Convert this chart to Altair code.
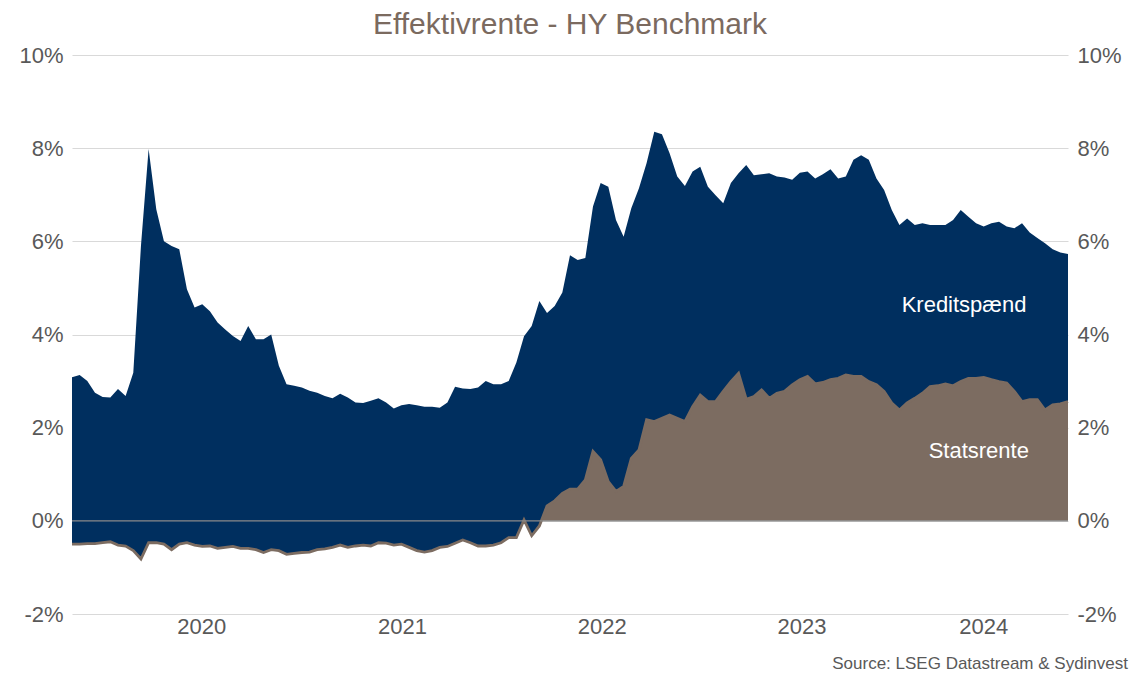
import altair as alt
import pandas as pd

# ---- data (biweekly, % values) ----
start_date = "2019-11-05"
n_points = 131
dates = [d.strftime("%Y-%m-%d") for d in pd.date_range(start_date, periods=n_points, freq="14D")]

total_yield = [
    3.08, 3.13, 3.0, 2.75, 2.66, 2.65, 2.83, 2.68, 3.18, 5.9, 7.98, 6.69, 6.0, 5.9, 5.83, 4.97,
    4.58, 4.65, 4.5, 4.26, 4.11, 3.97, 3.86, 4.18, 3.9, 3.9, 4.0, 3.33, 2.93, 2.9, 2.86, 2.79, 2.75,
    2.68,
    2.63, 2.73, 2.65, 2.54, 2.53, 2.58, 2.63, 2.54, 2.41, 2.48, 2.51, 2.48, 2.45, 2.45, 2.43, 2.54,
    2.88, 2.84, 2.83, 2.86, 3.0, 2.93, 2.93, 3.0, 3.4, 3.96, 4.18, 4.72, 4.46, 4.61, 4.9,
    5.7, 5.6,
    5.64, 6.75, 7.25, 7.17, 6.46, 6.1, 6.71, 7.14, 7.68, 8.35, 8.3, 7.89, 7.39, 7.19, 7.5, 7.6,
    7.17, 6.99, 6.82, 7.25, 7.46, 7.64, 7.42, 7.44, 7.46, 7.39, 7.37, 7.32, 7.47, 7.5, 7.35,
    7.44,
    7.55, 7.35, 7.39, 7.75, 7.85, 7.75, 7.35, 7.1, 6.67, 6.35, 6.49, 6.35, 6.39, 6.35, 6.35, 6.35,
    6.46, 6.67, 6.53, 6.39, 6.32, 6.39, 6.42, 6.32, 6.28, 6.39, 6.19, 6.07, 5.96, 5.83, 5.76, 5.73,
]

gov_yield = [
    -0.5, -0.5, -0.49, -0.49, -0.47, -0.45, -0.52, -0.54, -0.64, -0.82, -0.47, -0.47, -0.5, -0.62,
    -0.5, -0.47, -0.52, -0.55, -0.54, -0.59, -0.57, -0.55, -0.59, -0.59, -0.62, -0.68, -0.62, -0.64,
    -0.72, -0.7, -0.68, -0.67, -0.62,
    -0.6,
    -0.57, -0.52, -0.57, -0.54, -0.52, -0.54, -0.47, -0.48, -0.52, -0.5, -0.57, -0.64, -0.67, -0.64,
    -0.57, -0.55, -0.48, -0.41, -0.47, -0.54, -0.54, -0.52, -0.47, -0.36, -0.36, 0.02, -0.32, -0.11,
    0.32, 0.43, 0.59,
    0.68, 0.68,
    0.88, 1.49, 1.31, 0.84, 0.63, 0.74, 1.34, 1.52, 2.17, 2.13, 2.2, 2.27, 2.2, 2.13, 2.45, 2.7,
    2.56, 2.56, 2.78, 2.99, 3.17, 2.61, 2.67, 2.81, 2.63, 2.74, 2.78, 2.92, 3.03, 3.1, 2.94,
    2.97,
    3.03, 3.06, 3.13, 3.1, 3.1, 2.99, 2.92, 2.78, 2.53, 2.38, 2.53, 2.63, 2.74, 2.88, 2.9, 2.94,
    2.9, 2.99, 3.06, 3.06, 3.08, 3.03, 2.99, 2.96, 2.78, 2.56, 2.6, 2.6, 2.38, 2.49, 2.51, 2.56,
]

year_labels = ["2020", "2021", "2022", "2023", "2024"]
year_label_dates = ["2020-06-29", "2021-07-01", "2022-07-01", "2023-07-01", "2024-05-28"]
year_tick_years = [2020, 2021, 2022, 2023, 2024]

series_labels = ["Kreditspænd", "Statsrente"]
series_label_dates = ["2024-04-22", "2024-05-19"]
series_label_values = [4.64, 1.5]

y_ticks = [-2, 0, 2, 4, 6, 8, 10]

# ---- style ----
NAVY = "#002f5f"
BROWN = "#7c6c61"
TEXT = "#595959"
GRID = "#d9d9d9"
FONT = "Liberation Sans"

df = pd.DataFrame({"date": dates, "total": total_yield, "gov": gov_yield})
yl = pd.DataFrame({"date": year_label_dates, "label": year_labels, "v": [-2] * len(year_labels)})
sl = pd.DataFrame({"date": series_label_dates, "value": series_label_values, "label": series_labels})

xscale = alt.Scale(
    type="utc",
    domain=[alt.DateTime(year=2019, month=11, date=5, utc=True),
            alt.DateTime(year=2024, month=10, date=29, utc=True)],
)
yscale = alt.Scale(domain=[-2, 10], nice=False, zero=False)

x_axis = alt.Axis(
    values=[alt.DateTime(year=y, month=1, date=1, utc=True) for y in year_tick_years],
    labels=False, grid=False, ticks=True, tickSize=5, tickColor=GRID,
    domain=True, domainColor=GRID, title=None,
)
left_axis = alt.Axis(
    values=y_ticks, labelExpr="datum.value + '%'", orient="left", grid=True, gridColor=GRID,
    ticks=False, domain=False, labelFontSize=22, labelColor=TEXT, labelPadding=9, title=None,
)
right_axis = alt.Axis(
    values=y_ticks, labelExpr="datum.value + '%'", orient="right", grid=False,
    ticks=False, domain=False, labelFontSize=22, labelColor=TEXT, labelPadding=9, title=None,
)

base = alt.Chart(df)

gov_area = base.mark_area(color=BROWN, opacity=1).encode(
    x=alt.X("date:T", scale=xscale, axis=x_axis),
    y=alt.Y("gov:Q", scale=yscale, axis=left_axis),
    y2=alt.datum(0),
)
spread_area = base.mark_area(color=NAVY, opacity=1).encode(
    x=alt.X("date:T", scale=xscale, axis=None),
    y=alt.Y("gov:Q", scale=yscale, axis=None),
    y2="total:Q",
)
gov_line = base.mark_line(color=BROWN, strokeWidth=2.8).encode(
    x=alt.X("date:T", scale=xscale, axis=None),
    y=alt.Y("gov:Q", scale=yscale, axis=right_axis),
)
zero_rule = alt.Chart(pd.DataFrame({"v": [0]})).mark_rule(color="#8a8a8a", strokeWidth=1.2).encode(
    y=alt.Y("v:Q", scale=yscale, axis=None),
)
series_text = alt.Chart(sl).mark_text(color="white", fontSize=22, font=FONT).encode(
    x=alt.X("date:T", scale=xscale, axis=None),
    y=alt.Y("value:Q", scale=yscale, axis=None),
    text="label:N",
)
year_text = alt.Chart(yl).mark_text(color=TEXT, fontSize=22, font=FONT, dy=13).encode(
    x=alt.X("date:T", scale=xscale, axis=None),
    y=alt.Y("v:Q", scale=yscale, axis=None),
    text="label:N",
)
source_text = alt.Chart(pd.DataFrame({"t": ["Source: LSEG Datastream & Sydinvest"]})).mark_text(
    color=TEXT, fontSize=17, font=FONT, align="right", baseline="middle"
).encode(
    x=alt.value(1056), y=alt.value(609), text="t:N"
)

chart = alt.layer(
    gov_area, spread_area, gov_line, zero_rule, series_text, year_text, source_text
).resolve_axis(y="independent").properties(
    width=996,
    height=559,
    autosize="none",
    padding={"left": 64, "top": 47, "right": 71, "bottom": 60},
    title=alt.TitleParams(
        "Effektivrente - HY Benchmark", fontSize=30, color="#7b6a5f", font=FONT,
        fontWeight="normal", anchor="middle", offset=4,
    ),
).configure(font=FONT).configure_view(stroke=None)

chart.save("out.html", embed_options={"renderer": "svg", "actions": False})
